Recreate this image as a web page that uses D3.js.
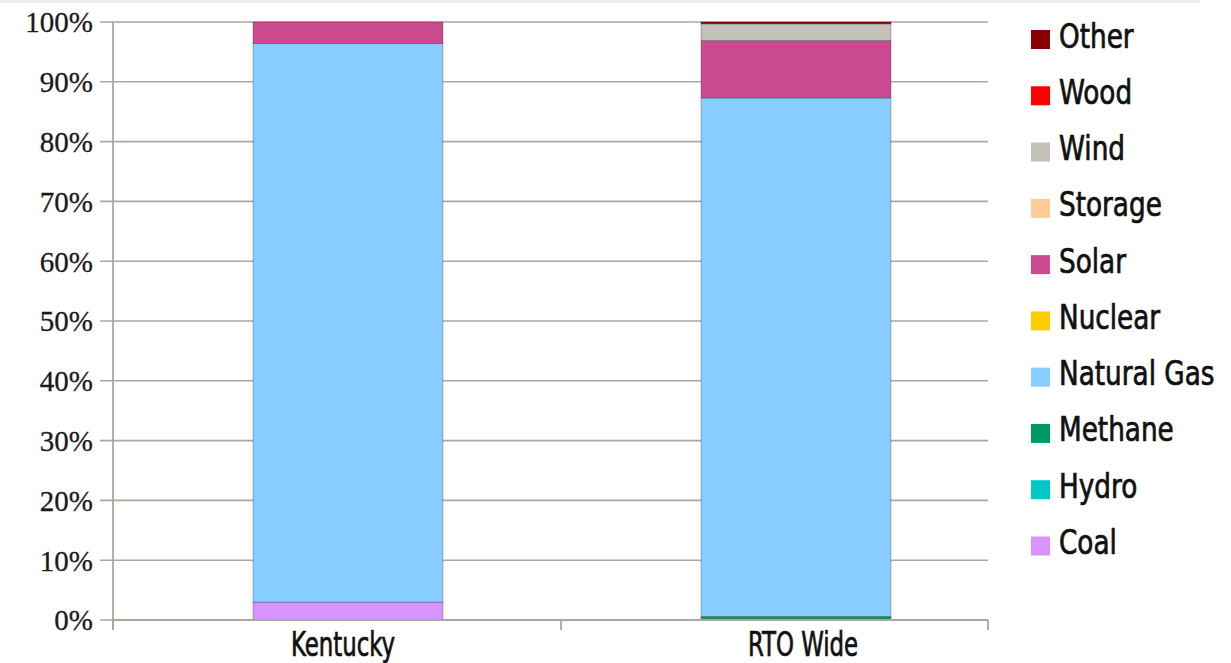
<!DOCTYPE html>
<html>
<head>
<meta charset="utf-8">
<script src="https://cdn.jsdelivr.net/npm/d3@7"></script>
<style>
html,body{margin:0;padding:0;background:#fff;}
svg{display:block;}
</style>
</head>
<body>
<svg id="chart" width="1231" height="663"></svg>
<script>
// ---- data ----
const categories = ["Kentucky", "RTO Wide"];
const seriesNames = ["Coal", "Hydro", "Methane", "Natural Gas", "Nuclear", "Solar", "Storage", "Wind", "Wood", "Other"];
const seriesColors = ["#d794ff", "#00c8c8", "#009966", "#87cdff", "#ffcc00", "#cc4a8f", "#ffcc99", "#c4c1bb", "#ff0000", "#880000"];
const kentuckyValues = [3.0, 0, 0, 93.4, 0, 3.6, 0, 0, 0, 0];
const rtoWideValues = [0, 0.2, 0.4, 86.7, 0, 9.6, 0, 2.8, 0, 0.3];
const yTickValues = [0, 10, 20, 30, 40, 50, 60, 70, 80, 90, 100];

const valuesByCategory = [kentuckyValues, rtoWideValues];
const table = categories.map((c, i) => {
  const row = {category: c};
  seriesNames.forEach((s, j) => row[s] = valuesByCategory[i][j]);
  return row;
});

const svg = d3.select("#chart");

// top light strip
svg.append("rect").attr("x", 0).attr("y", 0).attr("width", 1200).attr("height", 3).attr("fill", "#efefef");

const y = d3.scaleLinear().domain([0, 100]).range([620, 22]);
const x = d3.scaleBand().domain(categories).range([124, 1020]).paddingInner(0.576).paddingOuter(0.288);
const labelX = d3.scalePoint().domain(categories).range([343, 803]);
const frame = d3.scaleLinear().domain([0, 1, 2]).range([113, 561, 988]);
const color = d3.scaleOrdinal().domain(seriesNames).range(seriesColors);

// gridlines
svg.append("g").selectAll("line").data(yTickValues).join("line")
  .attr("x1", 100).attr("x2", frame(2))
  .attr("y1", d => y(d)).attr("y2", d => y(d))
  .attr("stroke", "#a9a9a2").attr("stroke-width", 1.6);

// y tick labels
svg.append("g").selectAll("text").data(yTickValues).join("text")
  .attr("x", 93).attr("y", d => y(d)).attr("dy", "0.36em")
  .attr("text-anchor", "end")
  .attr("font-family", "Liberation Serif, serif")
  .attr("font-size", 29).attr("fill", "#1a1a1a")
  .attr("stroke", "#1a1a1a").attr("stroke-width", 0.3)
  .text(d => d + "%");

// stacked bars
const stack = d3.stack().keys(seriesNames)(table);
svg.append("g").selectAll("g").data(stack).join("g")
  .attr("fill", d => color(d.key))
  .selectAll("rect").data(d => d.filter(p => p[1] - p[0] > 0)).join("rect")
  .attr("x", d => x(d.data.category))
  .attr("width", x.bandwidth())
  .attr("y", d => y(d[1]))
  .attr("height", d => y(d[0]) - y(d[1]))
  .attr("stroke", "rgba(0,0,0,0.25)").attr("stroke-width", 1);

// axes lines
svg.append("line").attr("x1", frame(0)).attr("x2", frame(0)).attr("y1", y(100)).attr("y2", 630)
  .attr("stroke", "#a9a9a2").attr("stroke-width", 1.8);
svg.append("line").attr("x1", frame(0)).attr("x2", frame(2)).attr("y1", y(0)).attr("y2", y(0))
  .attr("stroke", "#a9a9a2").attr("stroke-width", 1.8);
svg.append("g").selectAll("line").data([0, 1, 2]).join("line")
  .attr("x1", d => frame(d)).attr("x2", d => frame(d))
  .attr("y1", y(0)).attr("y2", 630)
  .attr("stroke", "#a9a9a2").attr("stroke-width", 1.8);

// category labels
svg.append("g").selectAll("g").data(categories).join("g")
  .attr("transform", d => `translate(${labelX(d)},656) scale(0.77,1)`)
  .append("text")
  .attr("text-anchor", "middle")
  .attr("font-family", "DejaVu Sans Condensed, DejaVu Sans, sans-serif")
  .attr("font-size", 33).attr("fill", "#111")
  .attr("stroke", "#111").attr("stroke-width", 0.7)
  .text(d => d);

// legend
const legendOrder = seriesNames.slice().reverse();
const legendY = d3.scalePoint().domain(legendOrder).range([39.5, 546]);
const lg = svg.append("g").selectAll("g").data(legendOrder).join("g")
  .attr("transform", d => `translate(1031,${legendY(d)})`);
lg.append("rect").attr("x", 0).attr("y", -9.5).attr("width", 19).attr("height", 19)
  .attr("fill", d => color(d));
lg.append("g").attr("transform", "translate(28,8) scale(0.86,1)")
  .append("text")
  .attr("font-family", "DejaVu Sans Condensed, DejaVu Sans, sans-serif")
  .attr("font-size", 34).attr("fill", "#111")
  .attr("stroke", "#111").attr("stroke-width", 0.7)
  .text(d => d);
</script>
</body>
</html>
